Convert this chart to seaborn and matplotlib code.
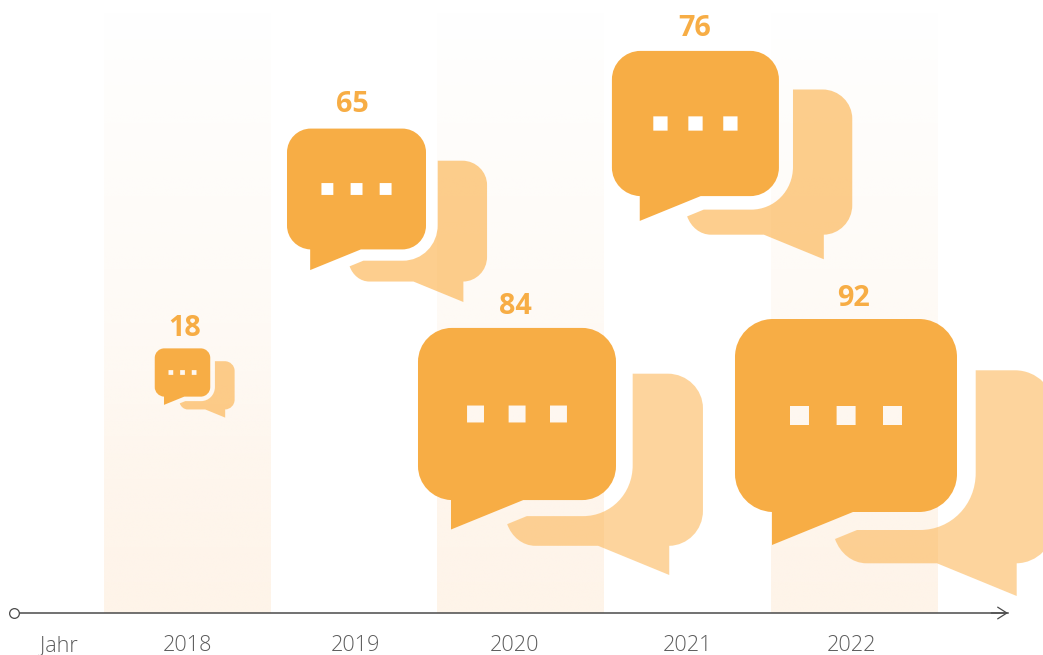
import numpy as np
import pandas as pd
import seaborn as sns
import matplotlib
matplotlib.use("Agg")
import matplotlib.pyplot as plt
from matplotlib.path import Path
from matplotlib.colors import LinearSegmentedColormap

# ---- data ----
years = ["2018", "2019", "2020", "2021", "2022"]
values = [18, 65, 84, 76, 92]
axis_title = "Jahr"

# ---- layout (not data) ----
DPI = 100
W, H = 1043, 655
BASE = 613              # pixel row of the axis line
SLOT = 166.75           # pixels per year slot
X0 = 187.5              # pixel column of slot 0
icon_x = [-0.03, 1.0135, 1.976, 3.046, 3.949]
icon_y = [240.5, 424, 199, 489.5, 197.5]
icon_w = [55.5, 139, 198, 167, 222]
back_alpha = [0.58, 0.58, 0.50, 0.58, 0.50]
label_x = [-0.015, 0.99, 1.967, 3.04, 3.997]
label_y = [284, 509, 306, 585, 315]
tick_x = [0.0, 1.005, 1.96, 3.0, 3.98]
band_x = [0.0, 1.997, 4.0]
jahr_x = -0.77
ORANGE = "#F7AD45"
BACK = "#FCAB3C"
GREY = "#5c5c5c"
DARK = "#4a4a4a"

sns.set_theme(style="white")
plt.rcParams["font.family"] = ["Open Sans", "DejaVu Sans"]

K = 0.5523


def build(segments):
    verts, codes = [], []
    for seg in segments:
        kind = seg[0]
        if kind == "M":
            verts.append(seg[1]); codes.append(Path.MOVETO)
        elif kind == "L":
            verts.append(seg[1]); codes.append(Path.LINETO)
        elif kind == "C":
            verts += [seg[1], seg[2], seg[3]]; codes += [Path.CURVE4] * 3
        elif kind == "Z":
            verts.append(seg[1]); codes.append(Path.CLOSEPOLY)
    return verts, codes


def square(x0, y0, s):
    # opposite winding, so that it punches a hole
    return [("M", (x0, y0)), ("L", (x0, y0 + s)), ("L", (x0 + s, y0 + s)),
            ("L", (x0 + s, y0)), ("Z", (x0, y0))]


r = 38
k = r * (1 - K)
front_seg = [
    ("M", (r, 0)), ("L", (222 - r, 0)),
    ("C", (222 - k, 0), (222, k), (222, r)),
    ("L", (222, 193 - r)),
    ("C", (222, 193 - k), (222 - k, 193), (222 - r, 193)),
    ("L", (118, 193)), ("L", (37, 226)), ("L", (37, 193)),
    ("C", (16, 192), (0, 175), (0, 193 - r)),
    ("L", (0, r)),
    ("C", (0, k), (k, 0), (r, 0)),
    ("Z", (r, 0)),
]
for dx in (55, 101.6, 148):
    front_seg += square(dx, 87, 19)

back_seg = [
    ("M", (240.7, 51.3)), ("L", (280, 51.3)),
    ("C", (302, 51.3), (319.5, 69), (319.5, 90)),
    ("L", (319.5, 205)),
    ("C", (319.5, 227), (302, 244), (281.7, 244.3)),
    ("L", (281.7, 277)), ("L", (202, 244.3)), ("L", (131.7, 244.3)),
    ("C", (117, 244.3), (105, 234), (100, 220)),
    ("L", (122, 211)), ("L", (185, 211)),
    ("C", (216, 211), (240.7, 186), (240.7, 154)),
    ("Z", (240.7, 51.3)),
]


def make_marker(segments):
    v, c = build(segments)
    v = np.array(v, float) - np.array([111, 96.5])
    v[:, 1] *= -1
    reach = np.abs(v).max()
    return Path(v / reach, c), reach


front_marker, front_reach = make_marker(front_seg)
back_marker, back_reach = make_marker(back_seg)


def area(width, reach):
    # scatter: a vertex at 1 lies 0.5*sqrt(s) points from the centre
    return (2 * reach * width / 222 * 72 / DPI) ** 2


df = pd.DataFrame({"year": years, "value": values, "x": icon_x, "y": icon_y,
                   "alpha": back_alpha})

fig = plt.figure(figsize=(W / DPI, H / DPI), dpi=DPI, facecolor="white")
ax = fig.add_axes([0, (H - BASE) / H, 1, BASE / H])
ax.set_facecolor("white")
xlim = ((0 - X0) / SLOT, (W - X0) / SLOT)

# soft vertical bands behind every second year
stops = [(0.0, 0.0), (0.02, 0.03), (0.05, 0.05), (0.10, 0.12),
         (0.45, 0.38), (0.60, 0.55), (0.75, 0.80), (1.0, 1.0)]
cmap = LinearSegmentedColormap.from_list(
    "band", [(p, (254 / 255, 244 / 255, 233 / 255, a)) for p, a in stops])
grad = np.linspace(0, 1, 256)[:, None]
for i in band_x:
    ax.imshow(grad, cmap=cmap, vmin=0, vmax=1, aspect="auto", origin="upper",
              extent=(i - 0.5, i + 0.5, 0, 603), zorder=0, interpolation="bilinear")

for a, group in df.groupby("alpha"):
    sns.scatterplot(data=group, x="x", y="y", size="value",
                    sizes={v: area(w, back_reach) for v, w in zip(values, icon_w)},
                    marker=back_marker, color=BACK, alpha=a, linewidth=0,
                    edgecolor="none", legend=False, ax=ax, zorder=2)
sns.scatterplot(data=df, x="x", y="y", size="value",
                sizes={v: area(w, front_reach) for v, w in zip(values, icon_w)},
                marker=front_marker, color=ORANGE, linewidth=0,
                edgecolor="none", legend=False, ax=ax, zorder=3)

for lx, ly, v in zip(label_x, label_y, values):
    ax.text(lx, ly, str(v), color=ORANGE, fontsize=20.7, fontweight="bold",
            ha="center", va="center", zorder=4)

ax.set_xlim(*xlim)
ax.set_ylim(0, BASE)
ax.set_xlabel("")
ax.set_ylabel("")
ax.set_yticks([])
ax.set_xticks([jahr_x] + tick_x)
ax.set_xticklabels([axis_title] + years, fontsize=15.6, color=GREY, fontweight="light")
ax.tick_params(axis="x", length=0, pad=15.6)

for side in ("top", "left", "right"):
    ax.spines[side].set_visible(False)
axis_start = (14 - X0) / SLOT
axis_end = (1008 - X0) / SLOT
ax.spines["bottom"].set_bounds(axis_start, axis_end)
ax.spines["bottom"].set_color(DARK)
ax.spines["bottom"].set_linewidth(1.1)

ax.plot([axis_start - 0.002], [0], marker="o", ms=7, mfc="white", mec=DARK, mew=0.9,
        clip_on=False, zorder=6, ls="none")
ax.annotate("", xy=(axis_end, 0), xytext=(axis_end - 0.1, 0), annotation_clip=False,
            arrowprops=dict(arrowstyle="->,head_length=0.55,head_width=0.35",
                            color=DARK, lw=0.9, shrinkA=0, shrinkB=0))

fig.savefig("out.png", dpi=DPI)
